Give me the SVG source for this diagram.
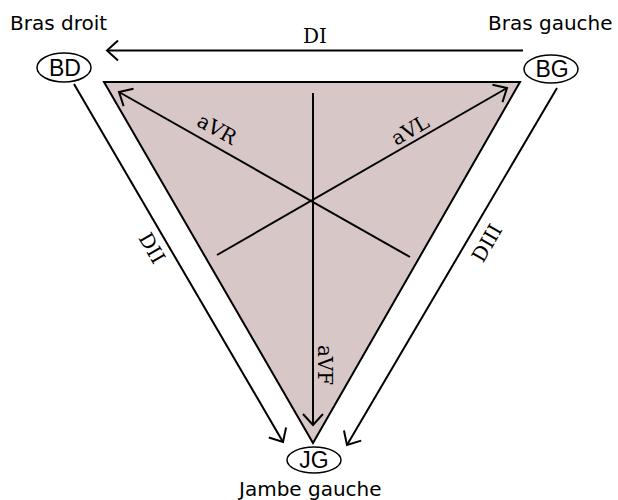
<svg xmlns="http://www.w3.org/2000/svg" width="618" height="500" viewBox="0 0 618 500">
<defs>
<style>
.ln{stroke:#000;stroke-width:2;fill:none}
.sans{font-family:"DejaVu Sans",sans-serif;font-size:20px;fill:#000}
.node{font-family:"Liberation Sans",Arial,sans-serif;font-size:23px;fill:#000;text-anchor:middle}
.serif{font-family:"DejaVu Serif",serif;font-size:20px;fill:#000}
.ell{fill:#fff;stroke:#000;stroke-width:1.5}
</style>
<marker id="arr" markerUnits="userSpaceOnUse" markerWidth="24" markerHeight="24" viewBox="-12 -12 24 24" refX="0" refY="0" orient="auto">
<path d="M-11,-10 L0,0 L-11,10" fill="none" stroke="#000" stroke-width="2"/>
</marker>
</defs>
<rect width="618" height="500" fill="#fff"/>
<polygon id="triangle" points="104,82 520,82 313,443" fill="#d7c7c7" stroke="#000" stroke-width="2" stroke-linejoin="miter"/>
<g id="connectors">
<line class="ln" x1="523" y1="50.5" x2="107" y2="50.5" marker-end="url(#arr)"/>
<line class="ln" x1="74" y1="84" x2="283" y2="442" marker-end="url(#arr)"/>
<line class="ln" x1="557" y1="88" x2="347" y2="445" marker-end="url(#arr)"/>
<line class="ln" x1="410" y1="257" x2="119" y2="92" marker-end="url(#arr)"/>
<line class="ln" x1="217" y1="255" x2="507" y2="88" marker-end="url(#arr)"/>
<line class="ln" x1="313" y1="93" x2="313" y2="425" marker-end="url(#arr)"/>
<text class="serif" x="303" y="43">DI</text>
<text class="serif" text-anchor="middle" transform="translate(152,248) rotate(60)" y="7">DII</text>
<text class="serif" text-anchor="middle" transform="translate(487,243) rotate(-60)" y="7">DIII</text>
<text class="serif" text-anchor="middle" transform="translate(217,129) rotate(29.5)" y="7">aVR</text>
<text class="serif" text-anchor="middle" transform="translate(410,130) rotate(-30)" y="7">aVL</text>
<text class="serif" text-anchor="middle" transform="translate(325,365) rotate(90)" y="7">aVF</text>
</g>
<g id="BD">
<ellipse class="ell" cx="64" cy="67.5" rx="27" ry="14.5"/>
<text class="node" x="65" y="76">BD</text>
<text class="sans" x="10" y="30">Bras droit</text>
</g>
<g id="BG">
<ellipse class="ell" cx="551" cy="69" rx="27" ry="14"/>
<text class="node" x="552" y="77">BG</text>
<text class="sans" x="488" y="30">Bras gauche</text>
</g>
<g id="JG">
<ellipse class="ell" cx="314" cy="460" rx="27" ry="13"/>
<text class="node" x="314" y="468">JG</text>
<text class="sans" x="239" y="496">Jambe gauche</text>
</g>
</svg>
